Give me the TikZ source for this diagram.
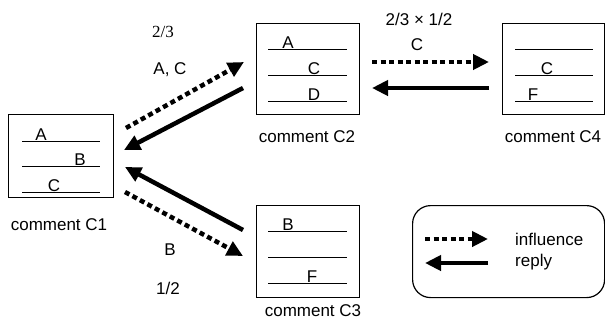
\documentclass[tikz,border=0pt]{standalone}
\usepackage{fontspec}
\setmainfont{Liberation Sans}
\newfontfamily\timesfont{Liberation Serif}
\usetikzlibrary{arrows.meta}
\begin{document}
\begin{tikzpicture}[x=1pt,y=-1pt,
  every node/.style={font=\fontsize{17}{19}\selectfont, inner sep=0pt},
  cbox/.style={draw, line width=1.2pt, anchor=north west},
  rule/.style={line width=0.9pt},
  onrule/.style={anchor=base},
  influence/.style={line width=4.5pt, dash pattern=on 5pt off 3.5pt, -{Triangle[length=16pt,width=15pt]}},
  replyarrow/.style={line width=4.5pt, -{Triangle[length=16pt,width=15pt]}}]
\useasboundingbox (0,0) rectangle (605,322);
% boxes
\node[cbox, minimum width=105pt, minimum height=83pt] (c1) at (8,114) {};
\node[cbox, minimum width=103pt, minimum height=91pt] (c2) at (256,23) {};
\node[cbox, minimum width=103pt, minimum height=92pt] (c3) at (256,205) {};
\node[cbox, minimum width=102pt, minimum height=91pt] (c4) at (502,23) {};
% C1 rules
\draw[rule] (22,141) -- (100,141);
\draw[rule] (22,166) -- (100,166);
\draw[rule] (22,192) -- (100,192);
\node[onrule] (c1a) at (41,140.5) {A};
\node[onrule] (c1b) at (80,165.5) {B};
\node[onrule] (c1c) at (54,191.5) {C};
% C2 rules
\draw[rule] (268,49) -- (347,49);
\draw[rule] (268,75) -- (347,75);
\draw[rule] (268,101) -- (347,101);
\node[onrule] (c2a) at (288,48.5) {A};
\node[onrule] (c2c) at (314,74.5) {C};
\node[onrule] (c2d) at (314,100.5) {D};
% C3 rules
\draw[rule] (268,231) -- (347,231);
\draw[rule] (268,257) -- (347,257);
\draw[rule] (268,283) -- (347,283);
\node[onrule] (c3b) at (288,230.5) {B};
\node[onrule] (c3f) at (312,282.5) {F};
% C4 rules
\draw[rule] (515,49) -- (593,49);
\draw[rule] (515,75) -- (593,75);
\draw[rule] (515,101) -- (593,101);
\node[onrule] (c4c) at (547,74.5) {C};
\node[onrule] (c4f) at (533,100.5) {F};
% captions
\node (l1) at (59,225) {comment C1};
\node (l2) at (307,137) {comment C2};
\node (l3) at (313,311) {comment C3};
\node (l4) at (553,137) {comment C4};
% arrow labels
\node[font=\timesfont\fontsize{17}{19}\selectfont] (t23) at (163,32) {2/3};
\node (tac) at (170,70) {A, C};
\node (t2312) at (419,19) {2/3 × 1/2};
\node (tc) at (417,45) {C};
\node (tb) at (170,250) {B};
\node (t12) at (168,288) {1/2};
% arrow endpoints
\coordinate (a1s) at (126,128); \coordinate (a1e) at (244,62);
\coordinate (a2s) at (243,88);  \coordinate (a2e) at (124,150);
\coordinate (a3s) at (243,230); \coordinate (a3e) at (125,167);
\coordinate (a4s) at (125,192); \coordinate (a4e) at (243,256);
\coordinate (a5s) at (372,62);  \coordinate (a5e) at (489,62);
\coordinate (a6s) at (489,88);  \coordinate (a6e) at (372,88);
\draw[influence] (a1s) -- (a1e);
\draw[replyarrow] (a2s) -- (a2e);
\draw[replyarrow] (a3s) -- (a3e);
\draw[influence] (a4s) -- (a4e);
\draw[influence] (a5s) -- (a5e);
\draw[replyarrow] (a6s) -- (a6e);
% legend
\node[draw, line width=1.2pt, rounded corners=18pt, anchor=north west, minimum width=192pt, minimum height=92pt] (leg) at (412,205) {};
\coordinate (g1s) at (425,239); \coordinate (g1e) at (488,239);
\coordinate (g2s) at (488,263); \coordinate (g2e) at (425,263);
\draw[influence] (g1s) -- (g1e);
\draw[replyarrow] (g2s) -- (g2e);
\node[anchor=west] (linf) at (515,239) {influence};
\node[anchor=west] (lrep) at (515,262) {reply};
\end{tikzpicture}
\end{document}
